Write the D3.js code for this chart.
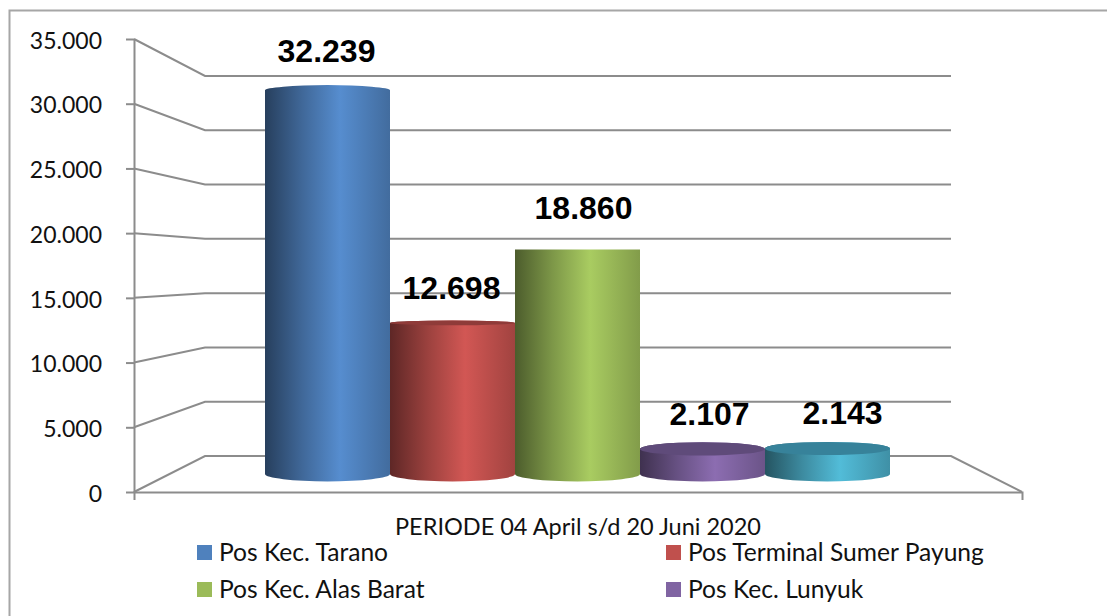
<!DOCTYPE html>
<html>
<head>
<meta charset="utf-8">
<script src="https://cdn.jsdelivr.net/npm/d3@7"></script>
<style>
    html, body { margin: 0; padding: 0; background: #fff; }
    svg { display: block; }
    .axis-text { font-family: Lato, sans-serif; fill: #111; }
    .value-label { font-family: "Liberation Sans", Arial, sans-serif; font-weight: bold; font-size: 32px; fill: #000; }
</style>
</head>
<body>
<svg id="svg" width="1107" height="616"></svg>
<script>
// the fifth bar has no legend entry in the picture, the legend is cut off after four
var legendNames = ["Pos Kec. Tarano", "Pos Terminal Sumer Payung", "Pos Kec. Alas Barat", "Pos Kec. Lunyuk"];
var values = [32239, 12698, 18860, 2107, 2143];
var valueLabels = ["32.239", "12.698", "18.860", "2.107", "2.143"];
var yTicks = [0, 5000, 10000, 15000, 20000, 25000, 30000, 35000];
var axisTitle = "PERIODE 04 April s/d 20 Juni 2020";

var barColors = ["#4f81bd", "#c0504d", "#9bbb59", "#8064a2", "#4bacc6"];
var capColors = ["#3f6797", "#8f3b39", "#7c9647", "#5f4b7a", "#37829a"];
// labels were moved by hand in the original chart
var labelNudgeX = [-1, -1, 6, 7, 15];
var labelGap = [28, 24, 31, 24, 24];

var gridColor = "#8c8c8c";
var frontX = 134, backX = 205, backRight = 951, frontRight = 1022;
var domain = [0, 35000];
var eyeValue = 18860;

var svg = d3.select("#svg");

var yFront = d3.scaleLinear().domain(domain).range([492, 39]);
var yBack = d3.scaleLinear().domain(domain).range([456, 76]);
var yMid = d3.scaleLinear().domain(domain).range([474, 57.5]);
var xBar = d3.scaleBand().domain(d3.range(values.length)).range([265, 890]);

// outer frame, open on the right and at the bottom
svg.append("path")
    .attr("d", "M9.5,616V10.5H1107")
    .attr("fill", "none")
    .attr("stroke", "#a6a6a6")
    .attr("stroke-width", 2);

// grid, floor and wall
var grid = d3.line().x(function(d) { return d[0]; }).y(function(d) { return d[1]; });
svg.append("g").selectAll("path")
    .data(yTicks)
    .enter()
    .append("path")
    .attr("d", function(t) {
        var pts = [[frontX, yFront(t)], [backX, yBack(t)], [backRight, yBack(t)]];
        if (t === 0) pts.push([frontRight, yFront(t)]);
        return grid(pts);
    })
    .attr("fill", "none")
    .attr("stroke", gridColor)
    .attr("stroke-width", 2);

// axes
var yAxis = d3.axisLeft(yFront)
    .tickValues(yTicks)
    .tickSize(8)
    .tickSizeOuter(0)
    .tickPadding(24)
    .tickFormat(function(d) {
        return d === 0 ? "0" : d3.format(",")(d).replace(",", ".");
    });
var yAxisG = svg.append("g")
    .attr("transform", "translate(" + frontX + ",0)")
    .call(yAxis);
yAxisG.selectAll("text")
    .attr("class", "axis-text")
    .attr("dy", "0.4em")
    .style("font-size", "23px");

var xAxisScale = d3.scaleLinear().domain([0, 1]).range([frontX, frontRight]);
svg.append("g")
    .attr("transform", "translate(0," + yFront(0) + ")")
    .call(d3.axisBottom(xAxisScale).tickValues([]).tickSize(8));

svg.selectAll(".domain, .tick line")
    .attr("stroke", gridColor)
    .attr("stroke-width", 2);

// bar gradients
var defs = svg.append("defs");
barColors.forEach(function(c, i) {
    var base = d3.color(c);
    var g = defs.append("linearGradient").attr("id", "bar-" + i);
    g.append("stop").attr("offset", "0%").attr("stop-color", base.darker(2));
    g.append("stop").attr("offset", "30%").attr("stop-color", base.darker(0.6));
    g.append("stop").attr("offset", "60%").attr("stop-color", base.brighter(0.25));
    g.append("stop").attr("offset", "100%").attr("stop-color", base.darker(0.5));
});

var capRy = function(v) {
    return Math.abs(yMid(v) - yMid(eyeValue)) * 0.033;
};

var bars = svg.append("g").selectAll("g")
    .data(values)
    .enter()
    .append("g");

bars.append("path")
    .attr("d", function(d, i) {
        var x0 = xBar(i), x1 = x0 + xBar.bandwidth();
        var rx = xBar.bandwidth() / 2;
        var top = yMid(d), bottom = yMid(0);
        return "M" + x0 + "," + top +
            "A" + rx + "," + capRy(d) + " 0 0 1 " + x1 + "," + top +
            "V" + bottom +
            "A" + rx + "," + capRy(0) + " 0 0 1 " + x0 + "," + bottom + "Z";
    })
    .attr("fill", function(d, i) { return "url(#bar-" + i + ")"; });

// top face only shows on bars below eye level
bars.filter(function(d) { return d < eyeValue; })
    .append("ellipse")
    .attr("cx", function(d) { return xBar(values.indexOf(d)) + xBar.bandwidth() / 2; })
    .attr("cy", function(d) { return yMid(d); })
    .attr("rx", xBar.bandwidth() / 2)
    .attr("ry", function(d) { return capRy(d); })
    .attr("fill", function(d) { return capColors[values.indexOf(d)]; });

// value labels
svg.append("g").selectAll("text")
    .data(values)
    .enter()
    .append("text")
    .attr("class", "value-label")
    .attr("text-anchor", "middle")
    .attr("x", function(d, i) { return xBar(i) + xBar.bandwidth() / 2 + labelNudgeX[i]; })
    .attr("y", function(d, i) { return yMid(d) - labelGap[i]; })
    .text(function(d, i) { return valueLabels[i]; });

// axis title
svg.append("text")
    .attr("class", "axis-text")
    .attr("x", 578)
    .attr("y", 535)
    .attr("text-anchor", "middle")
    .style("font-size", "23.5px")
    .text(axisTitle);

// legend, two columns
var legendX = d3.scaleOrdinal().domain([0, 1]).range([197, 666]);
var legendY = d3.scaleOrdinal().domain([0, 1]).range([545, 582]);
var legend = svg.append("g").selectAll("g")
    .data(legendNames)
    .enter()
    .append("g")
    .attr("transform", function(d, i) {
        return "translate(" + legendX(i % 2) + "," + legendY(Math.floor(i / 2)) + ")";
    });
legend.append("rect")
    .attr("width", 15)
    .attr("height", 15)
    .attr("fill", function(d, i) { return barColors[i]; });
legend.append("text")
    .attr("class", "axis-text")
    .attr("x", 22)
    .attr("y", 16)
    .style("font-size", "24.6px")
    .text(function(d) { return d; });
</script>
</body>
</html>
